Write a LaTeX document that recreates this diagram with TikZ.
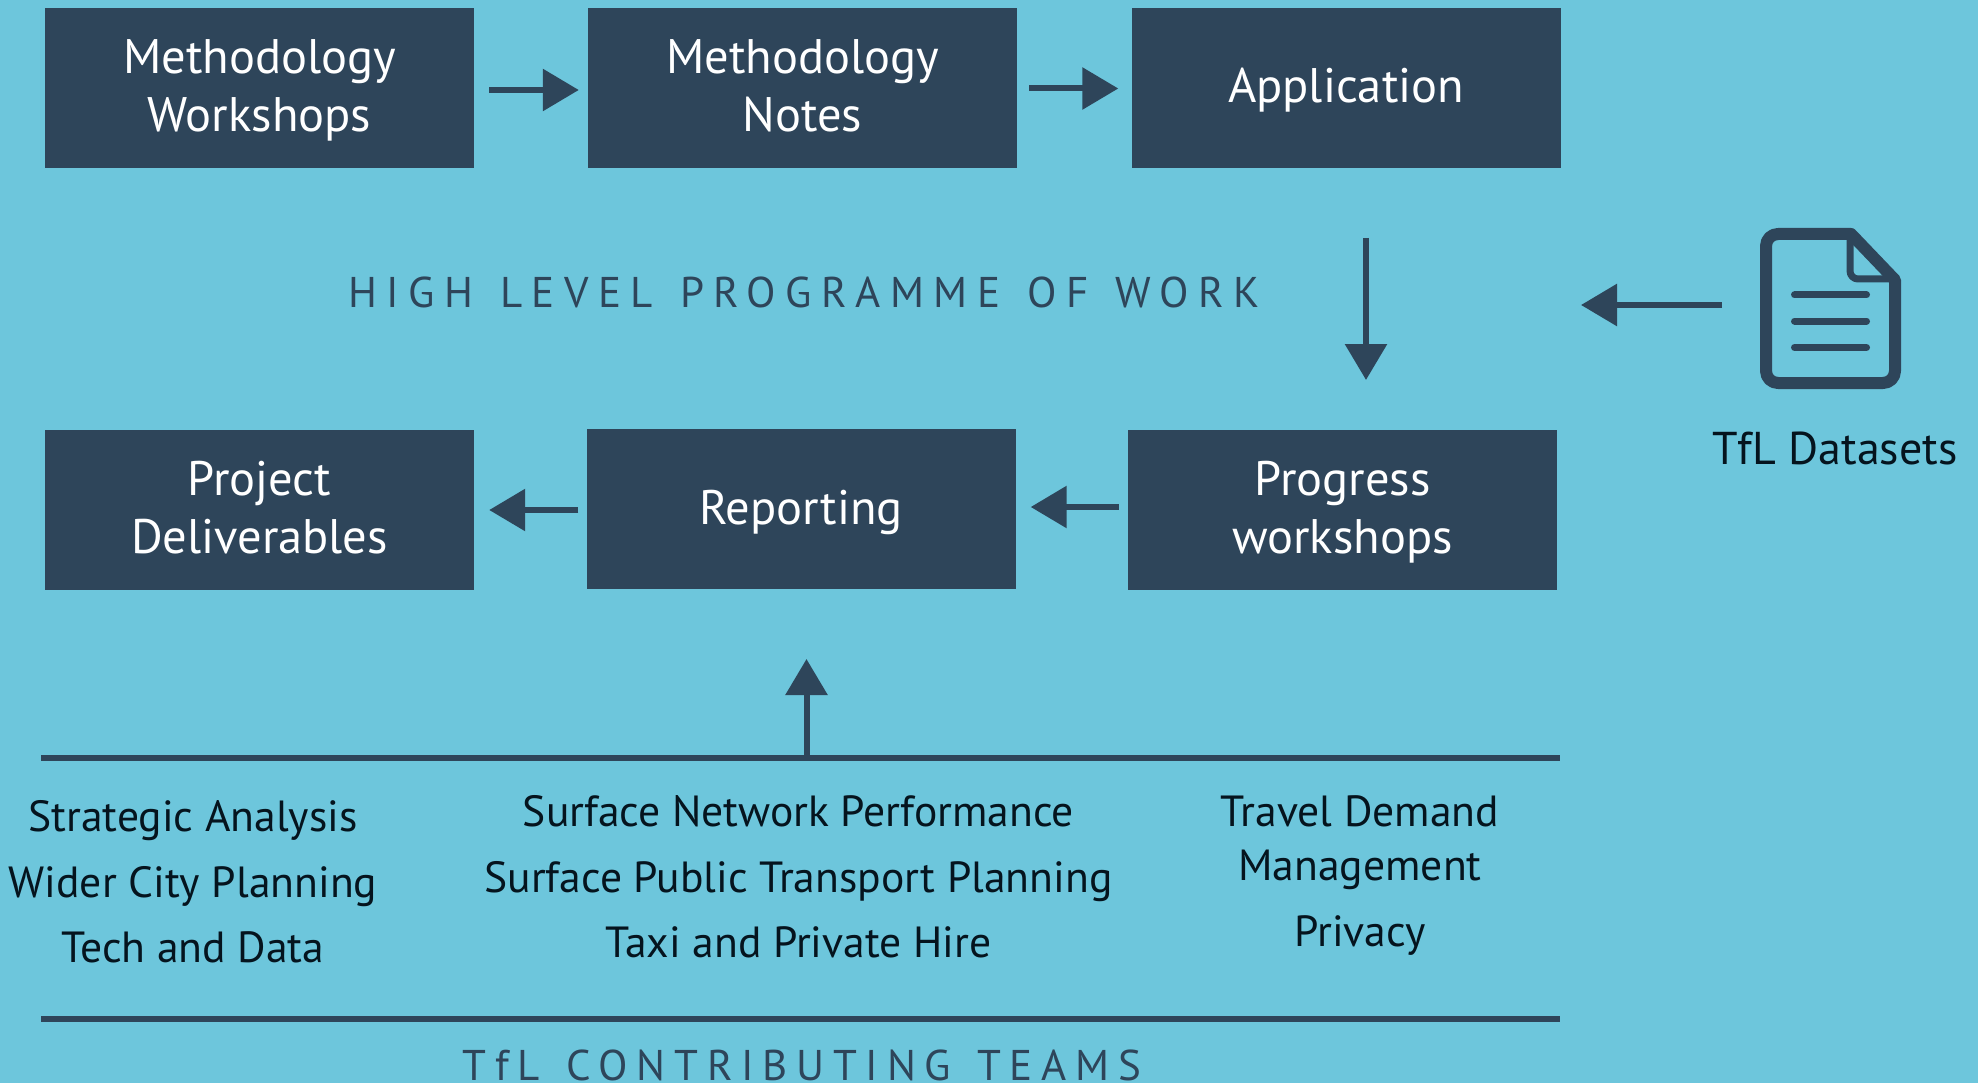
\documentclass[tikz,border=0pt]{standalone}
\usepackage{fontspec}
\setmainfont{PT Sans}
\newfontfamily\spaced[LetterSpace=22,WordSpace=1.3]{PT Sans}
\newfontfamily\spacedb[LetterSpace=20.3,WordSpace=1.3]{PT Sans}
\usetikzlibrary{arrows.meta}
\definecolor{bgblue}{HTML}{6DC6DC}
\definecolor{navy}{HTML}{2E455A}
\definecolor{inkc}{HTML}{05141E}
\newcommand\boxline[2]{\raisebox{-#1pt}[0.7\baselineskip][0.3\baselineskip]{#2}}
\tikzset{
  x=1pt,y=-1pt,
  stepbox/.style={fill=navy,text=white,minimum width=429pt,minimum height=160pt,inner sep=0pt,align=center,font=\fontsize{48.5}{58}\selectfont},
  flow/.style={draw=navy,line width=6pt,-{Triangle[length=36pt,width=41pt,fill=navy]}},
  rulel/.style={draw=navy,line width=6pt},
  team/.style={text=inkc,align=center,inner sep=0pt,font=\fontsize{43.6}{65.6}\selectfont},
  heading/.style={text=navy,inner sep=0pt,anchor=center},
  iconl/.style={draw=navy,line width=7pt,line cap=round}
}
\begin{document}
\begin{tikzpicture}
\useasboundingbox (0,0) rectangle (1978,1083);
\fill[bgblue] (0,0) rectangle (1978,1083);
\node[stepbox] (mw) at (259.5,88.5) {\boxline{2}{Methodology}\\\boxline{2}{Workshops}};
\node[stepbox] (mn) at (802.5,88.5) {\boxline{2}{Methodology}\\\boxline{2}{Notes}};
\node[stepbox] (app) at (1346,88.5) {\boxline{2}{Application}};
\node[stepbox] (pd) at (259.5,510) {\boxline{3}{Project}\\\boxline{3}{Deliverables}};
\node[stepbox] (rep) at (801,509) {\boxline{4}{Reporting}};
\node[stepbox] (pw) at (1342.5,510) {\boxline{3}{Progress}\\\boxline{3}{workshops}};
\draw[flow,shorten <=15pt,shorten >=9pt] (mw.east |- 0,90) -- (mn.west |- 0,90);
\draw[flow,shorten <=12pt,shorten >=13pt] (mn.east) -- (app.west);
\coordinate (d1) at (1366,238); \coordinate (d2) at (1366,380);
\draw[flow] (d1) -- (d2);
\draw[flow,shorten <=9pt,shorten >=15pt] (pw.west |- 0,507) -- (rep.east |- 0,507);
\draw[flow,shorten <=8pt,shorten >=15pt] (rep.west |- 0,510) -- (pd.east |- 0,510);
\coordinate (ds) at (1722,305);
\coordinate (dt) at (1581,305);
\draw[flow] (ds) -- (dt);
\coordinate (r1a) at (41,758); \coordinate (r1b) at (1560,758);
\coordinate (r2a) at (41,1019); \coordinate (r2b) at (1560,1019);
\draw[rulel] (r1a) -- (r1b);
\draw[rulel] (r2a) -- (r2b);
\coordinate (up) at (806.5,758); \coordinate (upt) at (806.5,659);
\draw[flow] (up) -- (upt);
\node[heading,font=\spaced\fontsize{43}{48}\selectfont] (hl) at (804,292) {HIGH LEVEL PROGRAMME OF WORK};
\node[heading,font=\spacedb\fontsize{43}{48}\selectfont] (tc) at (802,1065) {TfL CONTRIBUTING TEAMS};
\node[team] (t1) at (193,882) {Strategic Analysis\\Wider City Planning\\Tech and Data};
\node[team] (t2) at (798.5,877) {Surface Network Performance\\Surface Public Transport Planning\\Taxi and Private Hire};
\node[team,font=\fontsize{43.6}{54}\selectfont] (t3) at (1360,876) {Travel Demand\\Management\\[12pt]Privacy};
\node[team,font=\fontsize{46}{54}\selectfont] (tds) at (1835,448) {TfL Datasets};
\draw[navy,line width=12pt,line join=round]
 (1851,234) -- (1895,280) [rounded corners=12pt] -- (1895,383) -- (1766,383) -- (1766,234) [sharp corners] -- cycle;
\draw[navy,line width=7pt,line join=round,rounded corners=8pt]
 (1850,236) -- (1850,279) -- (1893,279);
\draw[iconl] (1794.5,295) -- (1866.5,295);
\draw[iconl] (1794.5,321) -- (1866.5,321);
\draw[iconl] (1794.5,347.5) -- (1866.5,347.5);
\end{tikzpicture}
\end{document}
